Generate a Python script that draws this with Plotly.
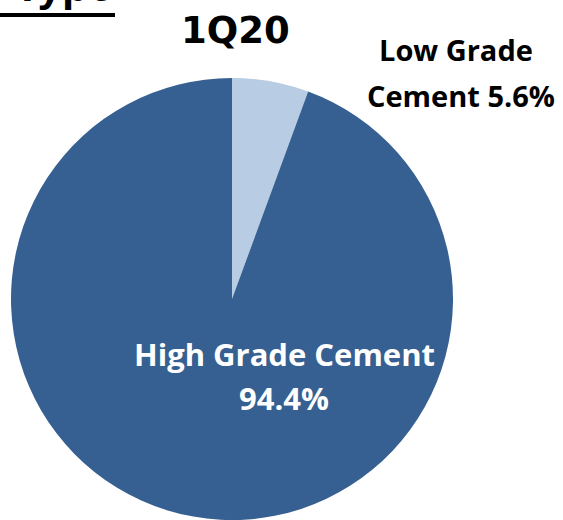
import plotly.graph_objects as go

# Data
categories = ["Low Grade Cement", "High Grade Cement"]
shares = [5.6, 94.4]
colors = ["#B8CCE4", "#366092"]
period_title = "1Q20"
section_title = "Type"

W, H = 563, 520

def py(px):
    return 1 - px / H

def px_x(px):
    return px / W

fig = go.Figure(go.Pie(
    labels=categories,
    values=shares,
    sort=False,
    direction="clockwise",
    rotation=0,
    textinfo="none",
    hoverinfo="skip",
    marker=dict(colors=colors, line=dict(width=0)),
    domain=dict(x=[10 / W, 454 / W], y=[0, 0.85]),
))

anns = []
anns.append(dict(text=f"<b>{section_title}</b>", x=px_x(115), y=py(12),
                 xanchor="right", yanchor="bottom",
                 font=dict(family="Liberation Sans, Arial", size=44, color="black")))
anns.append(dict(text=f"<b>{period_title}</b>", x=px_x(235), y=py(30),
                 xanchor="center", yanchor="middle",
                 font=dict(family="DejaVu Sans", size=37, color="black")))
low_words = categories[0].split(" ")
anns.append(dict(text=f"<b>{' '.join(low_words[:2])}</b>", x=px_x(456), y=py(50),
                 xanchor="center", yanchor="middle",
                 font=dict(family="Open Sans", size=29, color="black")))
anns.append(dict(text=f"<b>{low_words[2]} {shares[0]}%</b>", x=px_x(461), y=py(95),
                 xanchor="center", yanchor="middle",
                 font=dict(family="Open Sans", size=29, color="black")))
anns.append(dict(text=f"<b>{categories[1]}</b>", x=px_x(284), y=py(354),
                 xanchor="center", yanchor="middle",
                 font=dict(family="Open Sans", size=31, color="white")))
anns.append(dict(text=f"<b>{shares[1]}%</b>", x=px_x(284), y=py(398),
                 xanchor="center", yanchor="middle",
                 font=dict(family="Open Sans", size=31, color="white")))
for a in anns:
    a.update(xref="paper", yref="paper", showarrow=False)

# underline of the cut-off section title
underline = dict(type="line", xref="paper", yref="paper",
                 x0=0, x1=px_x(115), y0=py(15), y1=py(15),
                 line=dict(color="black", width=4))

fig.update_layout(
    width=W, height=H,
    margin=dict(l=0, r=0, t=0, b=0),
    paper_bgcolor="white",
    plot_bgcolor="white",
    showlegend=False,
    annotations=anns,
    shapes=[underline],
)

fig.write_html(
    "out.html",
    config={"displayModeBar": False},
    post_script="document.body.style.margin='0';document.body.style.overflow='hidden';",
)
